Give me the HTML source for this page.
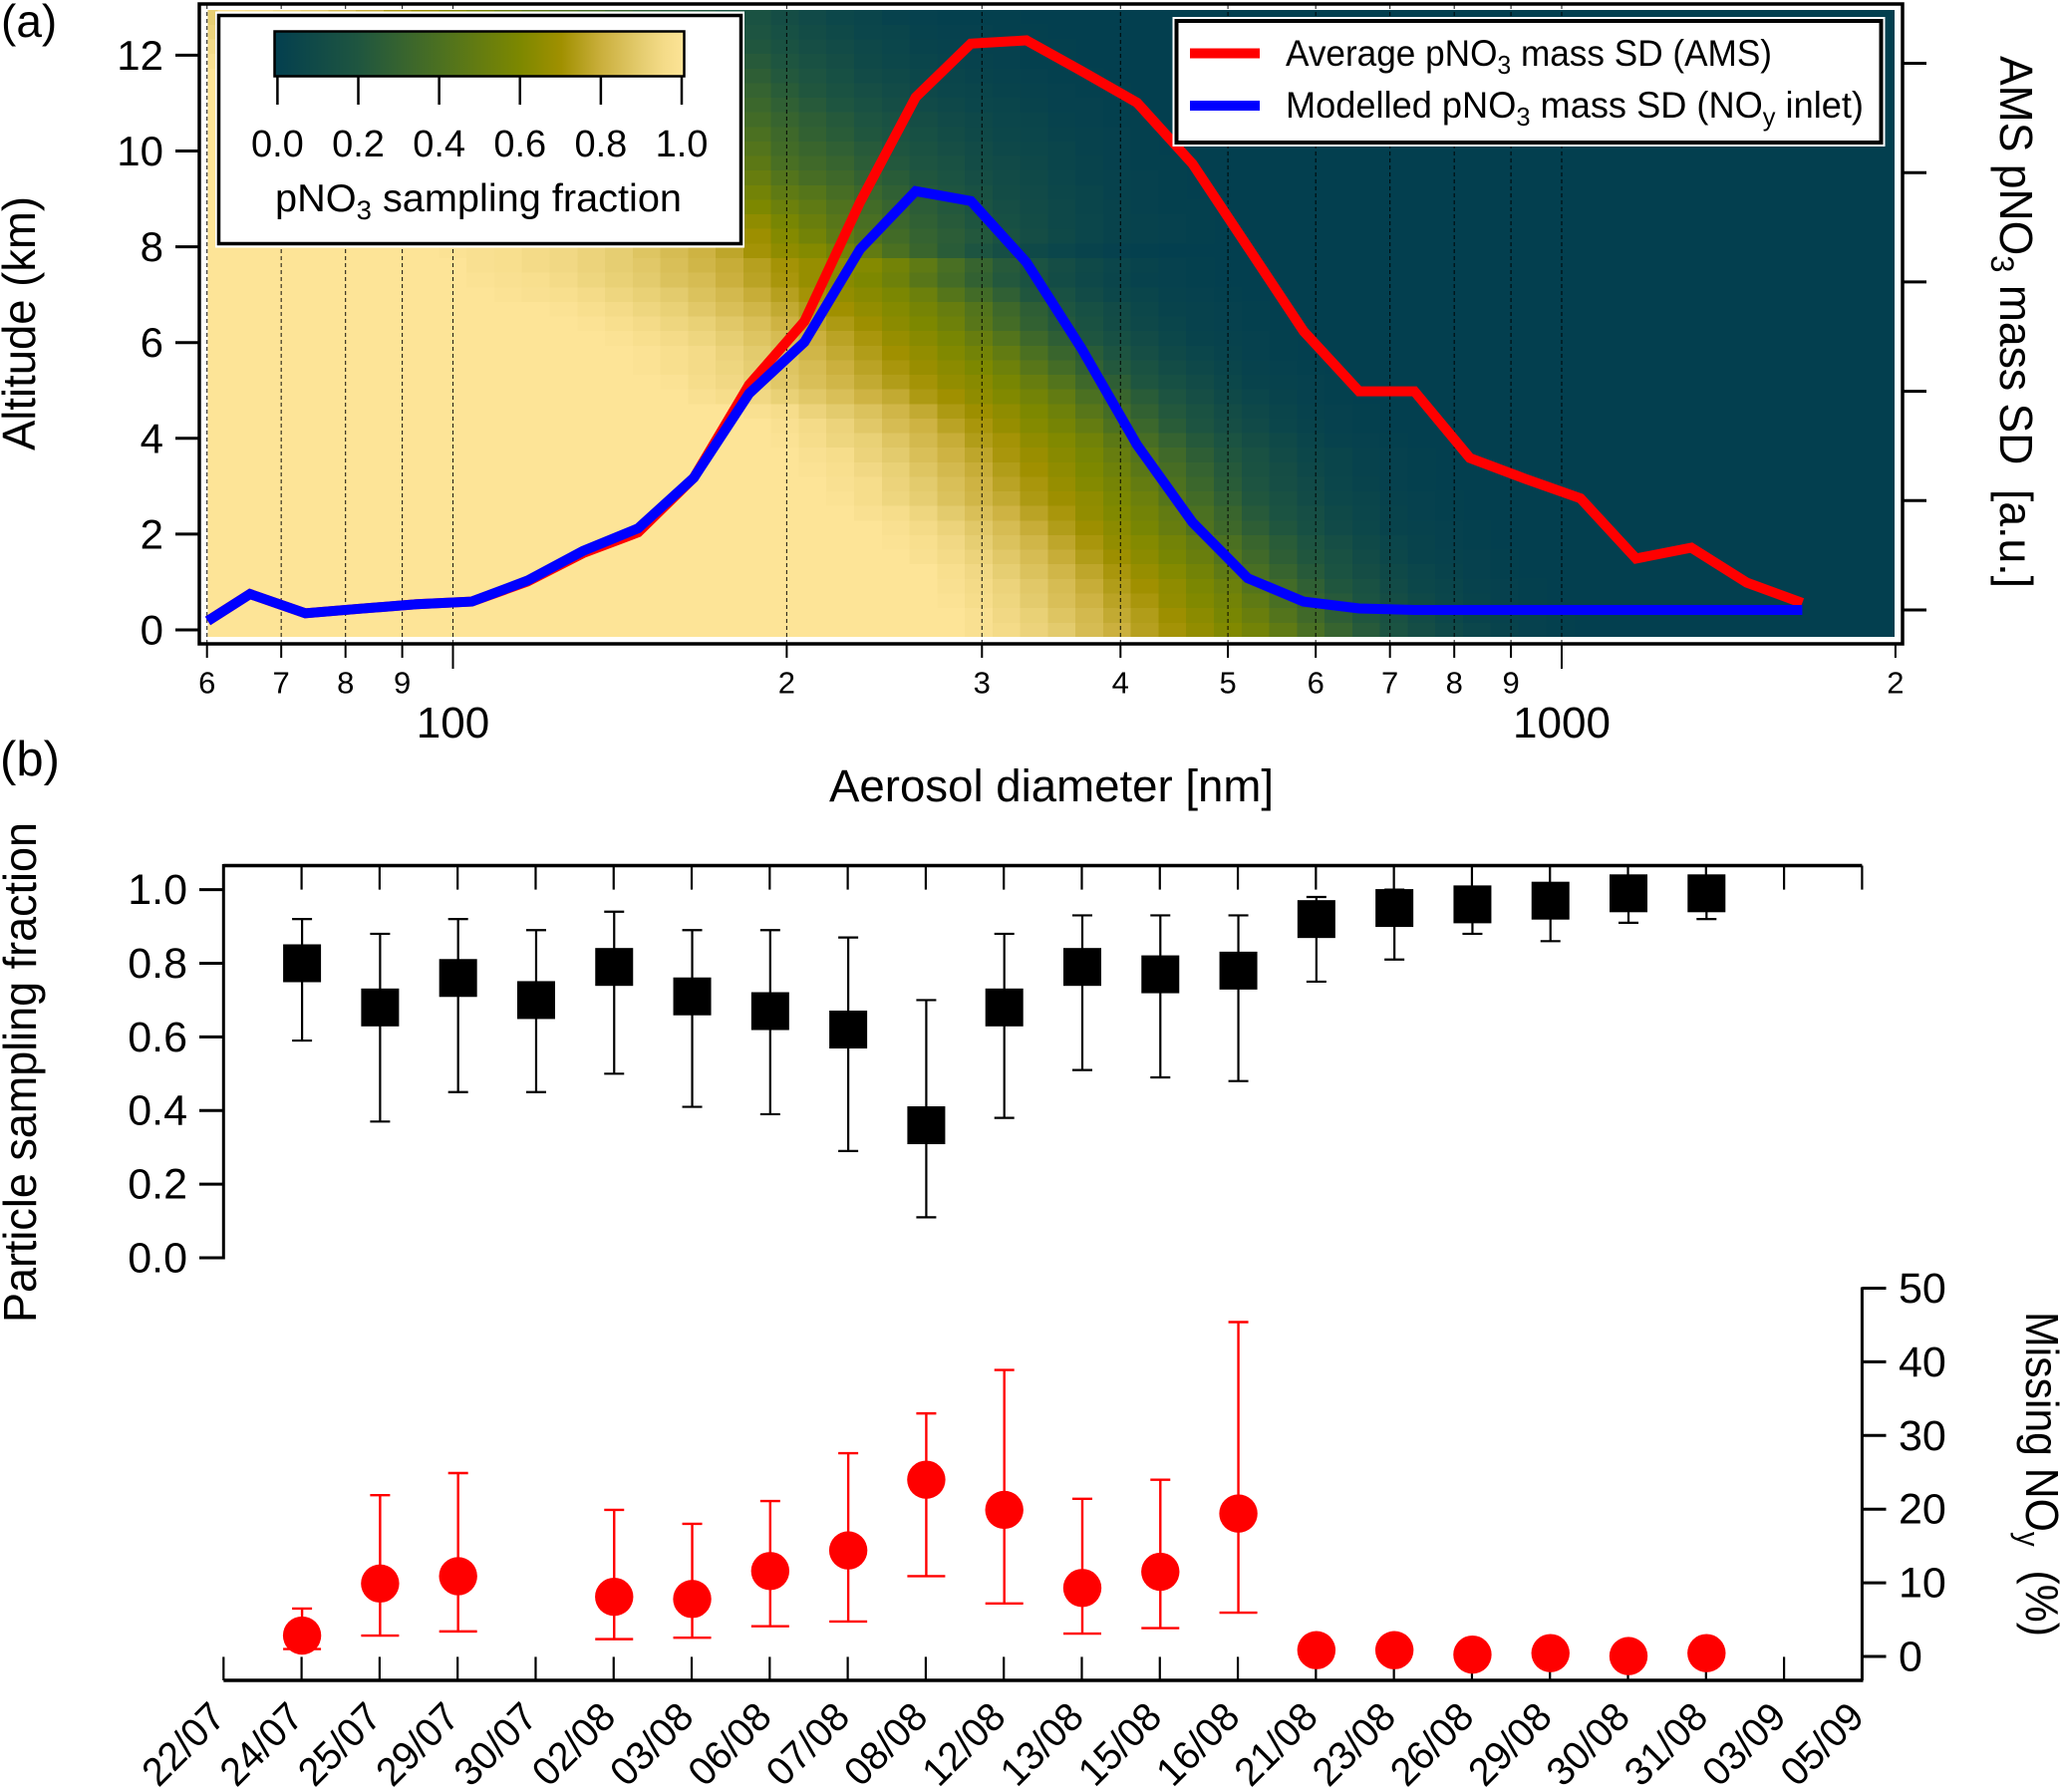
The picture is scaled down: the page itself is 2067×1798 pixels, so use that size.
<!DOCTYPE html>
<html lang="en">
<head>
<meta charset="utf-8">
<title>Aerosol sampling fraction and pNO3 mass size distribution</title>
<style>
html,body{margin:0;padding:0;background:#fff}
svg{display:block}
text{font-family:"Liberation Sans",sans-serif;fill:#000}
</style>
</head>
<body>
<svg id="chart" xmlns="http://www.w3.org/2000/svg" width="2067" height="1798" viewBox="0 0 2067 1798">
<defs>
<clipPath id="heat-clip"><rect x="208.5" y="10" width="1692.5" height="629"/></clipPath>
<linearGradient id="cbar-grad" x1="0" x2="1" y1="0" y2="0"></linearGradient>
</defs>
<rect x="0" y="0" width="2067" height="1798" fill="#fff"/>

<g id="panel-a">
<rect x="208.5" y="10" width="1692.5" height="629" fill="#033f4f"/>
<g id="heat" clip-path="url(#heat-clip)"></g>
<g id="grid-a"></g>
<polyline id="red-line" fill="none" stroke="#ff0000" stroke-width="10" stroke-linejoin="miter"/>
<polyline id="blue-line" fill="none" stroke="#0000ff" stroke-width="10" stroke-linejoin="miter"/>
<rect x="200" y="4" width="1709" height="642" fill="none" stroke="#000" stroke-width="3.5"/>
<g id="axes-a"></g>

<g>
<rect x="216" y="11.5" width="531" height="237" fill="#fff"/>
<rect x="219.5" y="15.5" width="524" height="229" fill="#fff" stroke="#000" stroke-width="3.5"/>
<rect x="275.5" y="31.5" width="411" height="45" fill="url(#cbar-grad)" stroke="#000" stroke-width="2.5"/>
<g id="cbar-ticks"></g>
<text x="276" y="212" font-size="39" textLength="408" lengthAdjust="spacingAndGlyphs">pNO<tspan font-size="27" dy="8">3</tspan><tspan dy="-8"> sampling fraction</tspan></text>
</g>

<g>
<rect x="1176.5" y="17" width="715" height="130" fill="#fff"/>
<rect x="1180.5" y="21" width="707" height="122" fill="#fff" stroke="#000" stroke-width="4"/>
<line x1="1194" x2="1264" y1="53.5" y2="53.5" stroke="#ff0000" stroke-width="10"/>
<line x1="1194" x2="1264" y1="106" y2="106" stroke="#0000ff" stroke-width="10"/>
<text x="1290" y="66" font-size="37" textLength="488" lengthAdjust="spacingAndGlyphs">Average pNO<tspan font-size="26" dy="8">3</tspan><tspan dy="-8"> mass SD (AMS)</tspan></text>
<text x="1290" y="118" font-size="37" textLength="580" lengthAdjust="spacingAndGlyphs">Modelled pNO<tspan font-size="26" dy="8">3</tspan><tspan dy="-8"> mass SD (NO</tspan><tspan font-size="26" dy="8">y</tspan><tspan dy="-8"> inlet)</tspan></text>
</g>

<text x="1" y="37" font-size="46">(a)</text>
<text transform="translate(35,452) rotate(-90)" font-size="46" textLength="255" lengthAdjust="spacingAndGlyphs">Altitude (km)</text>
<text transform="translate(2007,56) rotate(90)" font-size="46" textLength="534" lengthAdjust="spacingAndGlyphs">AMS pNO<tspan font-size="32" dy="9">3</tspan><tspan dy="-9"> mass SD&#160; [a.u.]</tspan></text>
<text x="832" y="804" font-size="45" textLength="446" lengthAdjust="spacingAndGlyphs">Aerosol diameter [nm]</text>
</g>

<g id="panel-b">
<g id="axes-b"></g>
<g id="marks-fraction"></g>
<g id="marks-missing"></g>
<text x="0" y="778" font-size="49">(b)</text>
<text transform="translate(36,1327) rotate(-90)" font-size="46" textLength="502" lengthAdjust="spacingAndGlyphs">Particle sampling fraction</text>
<text transform="translate(2033,1316) rotate(90)" font-size="46" textLength="326" lengthAdjust="spacingAndGlyphs">Missing NO<tspan font-size="32" dy="9">y</tspan><tspan dy="-9">&#160; (%)</tspan></text>
</g>
</svg>

<script>
/* ---------- panel (a) data ---------- */
const altitudeTicks = [0, 2, 4, 6, 8, 10, 12];
const massTicks = [0, 1, 2, 3, 4, 5];
const diameterMinor = [60, 70, 80, 90, 200, 300, 400, 500, 600, 700, 800, 900, 2000];
const diameterMinorLabels = ['6', '7', '8', '9', '2', '3', '4', '5', '6', '7', '8', '9', '2'];
const diameterMajor = [100, 1000];
const diameterMajorLabels = ['100', '1000'];
const colorbarTicks = [0, 0.2, 0.4, 0.6, 0.8, 1];
const colorbarLabels = ['0.0', '0.2', '0.4', '0.6', '0.8', '1.0'];
const cmapStops = [[0, '#033f4f'], [0.2, '#1e5540'], [0.4, '#4b7021'], [0.6, '#7d8800'], [0.7, '#a09000'], [0.8, '#cbb03e'], [0.9, '#e6ce72'], [0.95, '#f4db88'], [1, '#fde497']];

const massDiameters = [60.1, 65.6, 73.6, 82.6, 92.7, 104, 116.7, 131, 146.9, 164.9, 185, 207.5, 232.9, 261.4, 293.2, 329, 369, 414, 464.6, 521, 585, 656.5, 736.5, 826.3, 927, 1040, 1167, 1309, 1469, 1648];
const amsMass = [-0.1, 0.146, -0.03, 0.012, 0.052, 0.077, 0.26, 0.52, 0.71, 1.21, 2.06, 2.64, 3.73, 4.69, 5.18, 5.21, 4.93, 4.64, 4.08, 3.32, 2.55, 2.0, 2.0, 1.39, 1.2, 1.02, 0.47, 0.57, 0.25, 0.064];
const modelledMass = [-0.1, 0.146, -0.03, 0.012, 0.052, 0.077, 0.268, 0.54, 0.747, 1.21, 1.98, 2.45, 3.3, 3.83, 3.74, 3.18, 2.39, 1.51, 0.8, 0.29, 0.077, 0.014, 0, 0, 0, 0, 0, 0, 0, 0];

/* Sampling fraction in percent. Rows run from the lowest altitude bin upward, values from the smallest diameter bin;
   bins past the end of a row are 0. */
const heatFirstDiameter = 57.9;
const heatBinsPerDecade = 40.06;
const heatFirstAltitude = -0.1457;
const heatRowHeightKm = 0.3045;
const samplingPercent = [
[100,100,100,100,100,100,100,100,100,100,100,100,100,100,100,100,100,100,100,100,100,100,100,100,100,100,100,100,98,95,92,89,84,80,75,71,66,61,56,48,39,31,24,18,13,9,6,4,2,1],
[100,100,100,100,100,100,100,100,100,100,100,100,100,100,100,100,100,100,100,100,100,100,100,100,100,100,100,100,98,94,91,87,83,78,74,69,64,58,52,43,35,27,21,16,11,7,4,3,2,1],
[100,100,100,100,100,100,100,100,100,100,100,100,100,100,100,100,100,100,100,100,100,100,100,100,100,100,100,99,96,93,89,85,81,76,72,66,61,56,48,39,31,24,18,13,9,6,4,2,1],
[100,100,100,100,100,100,100,100,100,100,100,100,100,100,100,100,100,100,100,100,100,100,100,100,100,100,100,98,95,92,88,84,79,74,70,65,59,53,44,36,28,21,16,11,7,5,3,2,1],
[100,100,100,100,100,100,100,100,100,100,100,100,100,100,100,100,100,100,100,100,100,100,100,100,100,100,100,97,94,90,86,82,77,72,67,62,56,48,39,31,24,18,13,9,6,4,2,1],
[100,100,100,100,100,100,100,100,100,100,100,100,100,100,100,100,100,100,100,100,100,100,100,100,100,100,98,95,92,88,84,79,74,69,64,58,52,43,35,27,21,16,11,7,4,3,2,1],
[100,100,100,100,100,100,100,100,100,100,100,100,100,100,100,100,100,100,100,100,100,100,100,100,100,99,97,94,90,86,82,77,72,66,62,56,49,40,32,25,19,14,9,6,4,2,1],
[100,100,100,100,100,100,100,100,100,100,100,100,100,100,100,100,100,100,100,100,100,100,100,100,100,98,95,92,88,84,79,74,69,64,58,51,42,34,27,21,15,10,7,4,3,2,1],
[100,100,100,100,100,100,100,100,100,100,100,100,100,100,100,100,100,100,100,100,100,100,100,100,98,96,93,89,85,81,76,72,66,61,56,49,40,32,24,18,14,9,6,4,2,1],
[100,100,100,100,100,100,100,100,100,100,100,100,100,100,100,100,100,100,100,100,100,100,100,99,96,93,90,86,82,78,73,69,65,59,53,44,36,28,21,16,11,7,5,3,2,1],
[100,100,100,100,100,100,100,100,100,100,100,100,100,100,100,100,100,100,100,100,100,100,100,98,96,92,89,85,81,76,72,67,62,57,50,41,33,25,19,14,10,6,4,2,1],
[100,100,100,100,100,100,100,100,100,100,100,100,100,100,100,100,100,100,100,100,100,100,99,97,94,91,87,83,79,74,70,65,60,54,46,38,30,23,17,13,8,5,3,2,1],
[100,100,100,100,100,100,100,100,100,100,100,100,100,100,100,100,100,100,100,100,100,100,98,96,92,89,85,81,77,72,68,63,58,51,43,35,27,21,16,11,7,5,3,2,1],
[100,100,100,100,100,100,100,100,100,100,100,100,100,100,100,100,100,100,100,100,100,99,96,93,91,87,83,79,74,71,65,61,55,47,38,30,23,18,13,9,5,3,2,1],
[100,100,100,100,100,100,100,100,100,100,100,100,100,100,100,100,100,100,100,100,100,98,95,92,88,84,81,76,72,67,62,57,50,41,33,25,19,14,10,6,4,2,1],
[100,100,100,100,100,100,100,100,100,100,100,100,100,100,100,100,100,100,100,100,98,96,92,89,86,82,78,73,69,65,60,54,45,37,29,22,17,12,8,5,3,2,1],
[100,100,100,100,100,100,100,100,100,100,100,100,100,100,100,100,100,100,98,96,94,91,88,85,81,78,73,70,65,61,56,49,40,32,25,19,14,9,6,4,2,1],
[100,100,100,100,100,100,100,100,100,100,100,100,100,100,100,100,100,99,96,94,91,88,85,82,78,74,71,66,63,58,51,43,34,27,20,15,11,7,4,3,2,1],
[100,100,100,100,100,100,100,100,100,100,100,100,100,100,100,100,99,97,95,93,90,87,84,80,76,72,68,64,60,54,45,37,29,22,17,12,8,5,3,2,1],
[100,100,100,100,100,100,100,100,100,100,100,100,100,100,100,100,99,97,95,92,89,86,82,78,74,70,66,61,56,49,40,32,25,19,14,9,6,4,2,1],
[100,100,100,100,100,100,100,100,100,100,100,100,100,100,100,99,97,95,93,90,87,84,80,76,72,67,63,58,51,43,34,27,20,15,11,7,4,3,2,1],
[100,100,100,100,100,100,100,100,100,100,100,100,100,100,99,97,95,93,91,88,85,81,77,73,69,64,60,54,45,37,29,22,17,12,8,5,3,2,1],
[100,100,100,100,100,100,100,100,100,100,100,100,100,99,97,95,93,91,88,85,82,78,74,70,66,62,57,51,43,34,27,20,15,11,7,4,3,2,1],
[100,100,100,100,100,100,100,100,100,100,100,99,98,97,95,93,91,89,86,83,79,75,71,66,63,59,53,44,36,28,21,16,11,7,5,3,2,1],
[100,100,100,100,100,100,100,100,100,100,99,98,97,95,93,91,89,86,84,80,76,72,67,63,60,54,45,37,29,22,17,12,8,5,3,2,1],
[100,100,100,100,100,100,100,100,100,100,98,97,95,94,92,90,88,85,82,79,75,71,67,64,62,56,48,39,31,24,18,13,9,6,4,2,1],
[100,100,100,100,100,100,100,100,100,99,98,97,95,94,92,90,87,84,81,77,71,65,62,56,49,40,32,25,19,14,9,6,4,2,1],
[100,100,100,100,100,100,100,100,99,97,95,93,91,89,87,84,82,79,76,73,69,62,56,48,42,36,30,26,22,17,13,9,6,4,3,2,1],
[100,100,100,100,100,100,100,99,98,96,94,92,90,87,84,81,78,75,72,69,65,58,52,45,39,33,28,24,20,15,12,8,6,4,3,2,1],
[100,100,100,100,100,100,100,99,97,95,93,90,87,84,81,78,75,71,68,64,60,53,48,42,36,31,26,22,18,14,11,8,5,4,2,1,1],
[100,100,100,100,100,100,99,98,96,94,91,88,85,82,79,75,71,67,63,60,56,48,44,38,33,28,23,20,16,12,10,7,5,3,2,1],
[100,100,100,100,100,100,99,97,95,92,89,86,82,78,74,70,66,62,58,55,51,43,38,34,29,25,21,18,14,11,9,6,4,3,2,1],
[100,100,100,100,100,99,98,96,93,90,87,83,79,75,71,67,62,58,54,50,47,39,35,31,26,22,19,16,12,10,8,5,4,2,1,1],
[100,100,100,100,99,98,96,94,91,88,84,80,76,72,67,63,58,54,50,46,43,36,32,28,24,20,17,14,11,8,7,5,3,2,1],
[100,100,100,100,99,97,95,92,89,85,81,77,73,68,64,59,54,50,46,43,40,34,29,25,21,18,15,12,9,7,6,4,3,2,1],
[100,100,100,99,98,96,93,90,86,82,78,74,69,64,60,55,50,46,42,39,36,31,27,23,19,16,13,10,8,6,5,3,2,1,1],
[100,100,100,99,97,94,91,87,83,79,75,70,65,60,56,51,46,42,38,35,33,28,24,20,16,13,10,8,6,5,4,2,2,1],
[100,100,99,98,96,93,89,85,81,76,71,66,61,56,52,47,42,38,35,32,30,25,21,17,14,11,8,6,5,4,3,2,1,1],
[100,100,99,97,94,91,87,83,78,73,68,63,58,53,48,44,39,35,32,29,27,22,19,15,11,9,7,5,4,3,2,1,1],
[98,100,99,96,93,89,85,80,75,70,65,60,55,50,45,41,36,32,29,26,24,20,16,13,9,7,5,4,3,2,1,1],
[95,99,98,95,92,88,83,78,73,67,62,57,52,47,42,38,33,29,26,23,21,17,14,11,8,6,4,3,2,2,1,1],
[92,99,97,94,90,86,81,76,70,65,59,54,49,44,39,35,30,27,24,21,19,15,12,9,6,5,3,2,2,1,1],
[90,98,96,93,89,84,79,73,68,62,57,51,46,41,37,32,28,25,22,19,17,13,10,7,5,3,2,1,1,1]
];

/* ---------- panel (b) data ---------- */
const dateLabels = ['22/07', '24/07', '25/07', '29/07', '30/07', '02/08', '03/08', '06/08', '07/08', '08/08', '12/08', '13/08', '15/08', '16/08', '21/08', '23/08', '26/08', '29/08', '30/08', '31/08', '03/09', '05/09'];
const fractionTicks = [0, 0.2, 0.4, 0.6, 0.8, 1];
const fractionTickLabels = ['0.0', '0.2', '0.4', '0.6', '0.8', '1.0'];
const missingTicks = [0, 10, 20, 30, 40, 50];
const fractionValues = [null, 0.80, 0.68, 0.76, 0.70, 0.79, 0.71, 0.67, 0.62, 0.36, 0.68, 0.79, 0.77, 0.78, 0.92, 0.95, 0.96, 0.97, 0.99, 0.99, null, null];
const fractionUpper = [null, 0.92, 0.88, 0.92, 0.89, 0.94, 0.89, 0.89, 0.87, 0.70, 0.88, 0.93, 0.93, 0.93, 0.98, 1.0, 1.0, 1.0, 1.0, 1.0, null, null];
const fractionLower = [null, 0.59, 0.37, 0.45, 0.45, 0.50, 0.41, 0.39, 0.29, 0.11, 0.38, 0.51, 0.49, 0.48, 0.75, 0.81, 0.88, 0.86, 0.91, 0.92, null, null];
const missingValues = [null, 2.84, 9.9, 10.9, null, 8.1, 7.8, 11.6, 14.4, 24, 19.9, 9.3, 11.5, 19.4, 0.85, 0.85, 0.25, 0.45, 0.05, 0.45, null, null];
const missingUpper = [null, 6.5, 21.9, 24.9, null, 19.9, 18, 21.1, 27.6, 33, 38.9, 21.4, 24, 45.4, null, null, null, null, null, null, null, null];
const missingLower = [null, 1.0, 2.84, 3.4, null, 2.35, 2.55, 4.1, 4.75, 10.9, 7.2, 3.1, 3.85, 5.95, null, null, null, null, null, null, null, null];

/* ---------- axis functions ---------- */
const xLog = d => 454.5 + Math.log10(d / 100) * 1112.5;
const yAlt = a => 632 - 48.05 * a;
const yMass = v => 612 - 109.7 * v;
const xCbar = t => 278.4 + t * 405.6;
const xDate = i => 224.3 + i * 78.29;
const yFraction = f => 1262 - 369.4 * f;
const yMissing = m => 1662 - 7.39 * m;

const NS = 'http://www.w3.org/2000/svg';
function add(parent, tag, attrs, txt) {
  const el = document.createElementNS(NS, tag);
  for (const k in attrs) el.setAttribute(k, attrs[k]);
  if (txt !== undefined) el.textContent = txt;
  parent.appendChild(el);
  return el;
}
function cmap(t) {
  let i = 0;
  while (i < cmapStops.length - 2 && t > cmapStops[i + 1][0]) i++;
  const [t0, c0] = cmapStops[i], [t1, c1] = cmapStops[i + 1];
  const f = Math.max(0, Math.min(1, (t - t0) / (t1 - t0)));
  const ch = (c, p) => parseInt(c.substr(p, 2), 16);
  const out = [1, 3, 5].map(p => Math.round(ch(c0, p) + (ch(c1, p) - ch(c0, p)) * f));
  return 'rgb(' + out.join(',') + ')';
}

/* ---------- colour bar ---------- */
const grad = document.getElementById('cbar-grad');
cmapStops.forEach(s => {
  add(grad, 'stop', { offset: s[0], 'stop-color': s[1] });
});
const cbarG = document.getElementById('cbar-ticks');
colorbarTicks.forEach((t, i) => {
  const tick = add(cbarG, 'line', { x1: xCbar(t), x2: xCbar(t), y1: 77, y2: 105, stroke: '#000', 'stroke-width': 2.5 });
  
  
  const lab = add(cbarG, 'text', { x: xCbar(t), y: 157, 'font-size': 38, 'text-anchor': 'middle' }, colorbarLabels[i]);
  
  
});

/* ---------- heatmap ---------- */
const heatG = document.getElementById('heat');
samplingPercent.forEach((row, r) => {
  const yBottom = yAlt(heatFirstAltitude + r * heatRowHeightKm);
  const yTop = yAlt(heatFirstAltitude + (r + 1) * heatRowHeightKm);
  row.forEach((v, c) => {
    const x0 = xLog(heatFirstDiameter * Math.pow(10, c / heatBinsPerDecade));
    const x1 = xLog(heatFirstDiameter * Math.pow(10, (c + 1) / heatBinsPerDecade));
    const cell = add(heatG, 'rect', { x: x0, y: yTop, width: x1 - x0 + 0.4, height: yBottom - yTop + 0.4, fill: cmap(v / 100), 'shape-rendering': 'crispEdges' });
    
    
  });
});

/* ---------- gridlines and panel (a) axes ---------- */
const gridG = document.getElementById('grid-a');
const axA = document.getElementById('axes-a');
diameterMinor.concat(diameterMajor).forEach(d => {
  if (d === 2000) return;
  const g = add(gridG, 'line', { x1: xLog(d), x2: xLog(d), y1: 5, y2: 645, stroke: '#000', 'stroke-width': 1.1, 'stroke-dasharray': '4 3', opacity: 0.85 });
  
  
});
altitudeTicks.forEach(a => {
  const t = add(axA, 'line', { x1: 176, x2: 200, y1: yAlt(a), y2: yAlt(a), stroke: '#000', 'stroke-width': 3 });
  
  
  const l = add(axA, 'text', { x: 164, y: yAlt(a) + 14.5, 'font-size': 42, 'text-anchor': 'end' }, String(a));
  
  
});
massTicks.forEach(v => {
  const t = add(axA, 'line', { x1: 1909, x2: 1933, y1: yMass(v), y2: yMass(v), stroke: '#000', 'stroke-width': 3 });
  
  
});
diameterMinor.forEach((d, i) => {
  const t = add(axA, 'line', { x1: xLog(d), x2: xLog(d), y1: 646, y2: 660, stroke: '#000', 'stroke-width': 2 });
  
  
  const l = add(axA, 'text', { x: xLog(d), y: 695.5, 'font-size': 31, 'text-anchor': 'middle' }, diameterMinorLabels[i]);
  
  
});
diameterMajor.forEach((d, i) => {
  const t = add(axA, 'line', { x1: xLog(d), x2: xLog(d), y1: 646, y2: 671, stroke: '#000', 'stroke-width': 2 });
  
  
  const l = add(axA, 'text', { x: xLog(d), y: 740, 'font-size': 44, 'text-anchor': 'middle' }, diameterMajorLabels[i]);
  
  
});

/* ---------- mass size distributions ---------- */
const toPoints = (ds, vs) => ds.map((d, i) => xLog(d).toFixed(1) + ',' + yMass(vs[i]).toFixed(1)).join(' ');
document.getElementById('red-line').setAttribute('points', toPoints(massDiameters, amsMass));
document.getElementById('blue-line').setAttribute('points', toPoints(massDiameters, modelledMass));

/* ---------- panel (b) axes ---------- */
const axB = document.getElementById('axes-b');
[[224.3, 868.5, 1868.4, 868.5, 3.5, 'top-axis-line'], [224.3, 867, 224.3, 1263.5, 3, 'fraction-axis-line'], [224.3, 1686, 1869.5, 1686, 3.5, 'date-axis-line'], [1868.4, 1291.5, 1868.4, 1686, 3, 'missing-axis-line']].forEach(s => {
  const ln = add(axB, 'line', { x1: s[0], y1: s[1], x2: s[2], y2: s[3], stroke: '#000', 'stroke-width': s[4] });
  
  
});
dateLabels.forEach((lab, i) => {
  const x = xDate(i);
  const top = add(axB, 'line', { x1: x, x2: x, y1: 868.5, y2: 892.6, stroke: '#000', 'stroke-width': 2.2 });
  
  
  const bot = add(axB, 'line', { x1: x, x2: x, y1: 1662.4, y2: 1686, stroke: '#000', 'stroke-width': 2.2 });
  
  
  const t = add(axB, 'text', { transform: 'translate(' + (x + 4) + ',1725) rotate(-45)', 'font-size': 40, 'text-anchor': 'end', textLength: 98, lengthAdjust: 'spacingAndGlyphs' }, lab);
  
  
});
fractionTicks.forEach((f, i) => {
  const y = yFraction(f);
  const t = add(axB, 'line', { x1: 200, x2: 224.3, y1: y, y2: y, stroke: '#000', 'stroke-width': 3 });
  
  
  const l = add(axB, 'text', { x: 188, y: y + 14.5, 'font-size': 43, 'text-anchor': 'end' }, fractionTickLabels[i]);
  
  
});
missingTicks.forEach(m => {
  const y = yMissing(m);
  const t = add(axB, 'line', { x1: 1868.4, x2: 1892.5, y1: y, y2: y, stroke: '#000', 'stroke-width': 3 });
  
  
  const l = add(axB, 'text', { x: 1905, y: y + 14.5, 'font-size': 43 }, String(m));
  
  
});

/* ---------- panel (b) series ---------- */
const fracG = document.getElementById('marks-fraction');
fractionValues.forEach((v, i) => {
  if (v === null) return;
  const x = xDate(i) + 0.5;
  const yU = yFraction(fractionUpper[i]), yL = yFraction(fractionLower[i]);
  const stem = add(fracG, 'line', { x1: x, x2: x, y1: yU, y2: yL, stroke: '#000', 'stroke-width': 2.2 });
  
  
  const capU = add(fracG, 'line', { x1: x - 10, x2: x + 10, y1: yU, y2: yU, stroke: '#000', 'stroke-width': 2.2 });
  
  
  const capL = add(fracG, 'line', { x1: x - 10, x2: x + 10, y1: yL, y2: yL, stroke: '#000', 'stroke-width': 2.2 });
  
  
  const sq = add(fracG, 'rect', { x: x - 19, y: yFraction(v) - 19, width: 38, height: 38, fill: '#000' });
  
  
});
const missG = document.getElementById('marks-missing');
missingValues.forEach((v, i) => {
  if (v === null) return;
  const x = xDate(i) + 0.5;
  if (missingUpper[i] !== null) {
    const yU = yMissing(missingUpper[i]), yL = yMissing(missingLower[i]);
    const stem = add(missG, 'line', { x1: x, x2: x, y1: yU, y2: yL, stroke: '#ff0000', 'stroke-width': 2.4 });
    
    
    const capU = add(missG, 'line', { x1: x - 10, x2: x + 10, y1: yU, y2: yU, stroke: '#ff0000', 'stroke-width': 2.4 });
    
    
    const capL = add(missG, 'line', { x1: x - 19, x2: x + 19, y1: yL, y2: yL, stroke: '#ff0000', 'stroke-width': 2.4 });
    
    
  }
  const dot = add(missG, 'circle', { cx: x, cy: yMissing(v), r: 19.2, fill: '#ff0000' });
  
  
});
</script>
</body>
</html>
